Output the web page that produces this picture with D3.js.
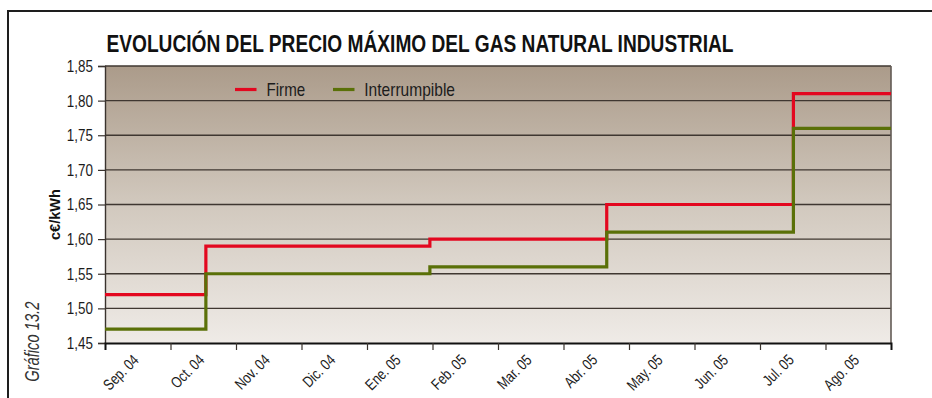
<!DOCTYPE html>
<html>
<head>
<meta charset="utf-8">
<script src="https://cdn.jsdelivr.net/npm/d3@7/dist/d3.min.js"></script>
<style>
  html, body { margin: 0; padding: 0; background: #ffffff; }
  svg { display: block; }
</style>
</head>
<body>
<script>
// Monthly categories on the x axis
const months = ["Sep. 04", "Oct. 04", "Nov. 04", "Dic. 04", "Ene. 05", "Feb. 05",
                "Mar. 05", "Abr. 05", "May. 05", "Jun. 05", "Jul. 05", "Ago. 05"];
// Y axis ticks (c€/kWh)
const yTicks = [1.45, 1.50, 1.55, 1.60, 1.65, 1.70, 1.75, 1.80, 1.85];
// Positions (in months from the start of Sep. 04) where each tariff takes effect
const changeAt = [0, 1.54, 4.96, 7.66, 10.51];
// Maximum price for each tariff period
const firme = [1.52, 1.59, 1.60, 1.65, 1.81];
const interrumpible = [1.47, 1.55, 1.56, 1.61, 1.76];
const seriesNames = ["Firme", "Interrumpible"];
const seriesColors = ["#e3071f", "#5a7008"];

const W = 932, H = 398;
const plot = { left: 105, right: 891, top: 66, bottom: 343 };
const FONT = "'Liberation Sans', Arial, sans-serif";

const svg = d3.select("body").append("svg")
  .attr("width", W).attr("height", H);

// Plot background gradient
const defs = svg.append("defs");
const grad = defs.append("linearGradient")
  .attr("id", "bg").attr("x1", 0).attr("y1", 0).attr("x2", 0).attr("y2", 1);
grad.append("stop").attr("offset", "0%").attr("stop-color", "#ab9b8a");
grad.append("stop").attr("offset", "48%").attr("stop-color", "#d0c7bc");
grad.append("stop").attr("offset", "100%").attr("stop-color", "#efebe7");

// Outer frame (left and top rules)
svg.append("path")
  .attr("d", `M8,${H} L8,11 L${W},11`)
  .attr("fill", "none").attr("stroke", "#1e1e1e").attr("stroke-width", 2);

// Scales
const xBand = d3.scaleBand().domain(months).range([plot.left, plot.right]).padding(0);
const xm = d3.scaleLinear().domain([0, months.length]).range([plot.left, plot.right]);
const y = d3.scaleLinear().domain([1.45, 1.85]).range([plot.bottom, plot.top]);

svg.append("rect")
  .attr("x", plot.left).attr("y", plot.top)
  .attr("width", plot.right - plot.left).attr("height", plot.bottom - plot.top)
  .attr("fill", "url(#bg)");

// Horizontal gridlines
svg.append("g")
  .selectAll("line")
  .data(yTicks.filter(d => d > 1.45))
  .join("line")
  .attr("x1", plot.left).attr("x2", plot.right)
  .attr("y1", d => y(d)).attr("y2", d => y(d))
  .attr("stroke", "#3f3731").attr("stroke-width", 1.3);

// Right edge of plot
svg.append("line")
  .attr("x1", plot.right).attr("x2", plot.right)
  .attr("y1", plot.top).attr("y2", plot.bottom)
  .attr("stroke", "#625b55").attr("stroke-width", 1.6);

// Title
svg.append("text")
  .attr("x", 106.5).attr("y", 51.5)
  .attr("font-family", FONT).attr("font-weight", "bold").attr("font-size", 23.5)
  .attr("fill", "#111")
  .attr("textLength", 627).attr("lengthAdjust", "spacingAndGlyphs")
  .text("EVOLUCIÓN DEL PRECIO MÁXIMO DEL GAS NATURAL INDUSTRIAL");

// Y axis
const fmt = d => d3.format(".2f")(d).replace(".", ",");
const yAxis = svg.append("g")
  .attr("transform", `translate(${plot.left},0)`)
  .call(d3.axisLeft(y).tickValues(yTicks).tickSize(7).tickFormat(fmt));
yAxis.select(".domain").attr("stroke", "#3a332e").attr("stroke-width", 1.4);
yAxis.selectAll(".tick line").attr("stroke", "#3a332e").attr("stroke-width", 1.2);
yAxis.selectAll(".tick text")
  .attr("font-family", FONT).attr("font-size", 16).attr("fill", "#1c1c1c")
  .attr("x", -12 / 0.84).attr("dy", "0.34em")
  .attr("transform", "scale(0.84,1)");

// Y axis title
svg.append("text")
  .attr("transform", "translate(60,214.5) rotate(-90)")
  .attr("text-anchor", "middle")
  .attr("font-family", FONT).attr("font-weight", "bold").attr("font-size", 15.5)
  .attr("fill", "#111")
  .attr("textLength", 51).attr("lengthAdjust", "spacingAndGlyphs")
  .text("c€/kWh");

// X axis: ticks between month categories
const xAxis = svg.append("g")
  .attr("transform", `translate(0,${plot.bottom})`)
  .call(d3.axisBottom(xm).tickValues(d3.range(1, months.length)).tickSize(7).tickFormat(""));
xAxis.select(".domain").attr("stroke", "#111").attr("stroke-width", 2);
xAxis.selectAll(".tick line").attr("stroke", "#3a332e").attr("stroke-width", 1.2);

// Rotated month labels
svg.append("g")
  .selectAll("text")
  .data(months)
  .join("text")
  .attr("transform", d => `translate(${xBand(d) + xBand.bandwidth() / 2 + 2},${plot.bottom + 18}) rotate(-45) scale(0.8,1)`)
  .attr("text-anchor", "end")
  .attr("font-family", FONT).attr("font-size", 15.5).attr("fill", "#1c1c1c")
  .text(d => d);

// Step lines
const seriesValues = [firme, interrumpible];
const line = d3.line()
  .x(d => xm(d[0]))
  .y(d => y(d[1]))
  .curve(d3.curveStepAfter);

seriesValues.forEach((vals, i) => {
  const pts = changeAt.map((c, j) => [c, vals[j]]);
  pts.push([months.length, vals[vals.length - 1]]);
  svg.append("path")
    .datum(pts)
    .attr("d", line)
    .attr("fill", "none")
    .attr("stroke", seriesColors[i])
    .attr("stroke-width", 3.2)
    .attr("stroke-linejoin", "miter");
});

// Legend
const legendX = [235, 333];
const legendTextX = [266.5, 364.3];
const legendTextW = [38.7, 90.7];
seriesNames.forEach((name, i) => {
  svg.append("line")
    .attr("x1", legendX[i]).attr("x2", legendX[i] + 21.5)
    .attr("y1", 89.5).attr("y2", 89.5)
    .attr("stroke", seriesColors[i]).attr("stroke-width", 3.2);
  svg.append("text")
    .attr("x", legendTextX[i]).attr("y", 95.5)
    .attr("font-family", FONT).attr("font-size", 19).attr("fill", "#1c1c1c")
    .attr("textLength", legendTextW[i]).attr("lengthAdjust", "spacingAndGlyphs")
    .text(name);
});

// Figure caption on the left margin
svg.append("text")
  .attr("transform", "translate(39,341.7) rotate(-90)")
  .attr("text-anchor", "middle")
  .attr("font-family", FONT).attr("font-style", "italic").attr("font-size", 20)
  .attr("fill", "#333")
  .attr("textLength", 80).attr("lengthAdjust", "spacingAndGlyphs")
  .text("Gráfico 13.2");
</script>
</body>
</html>
